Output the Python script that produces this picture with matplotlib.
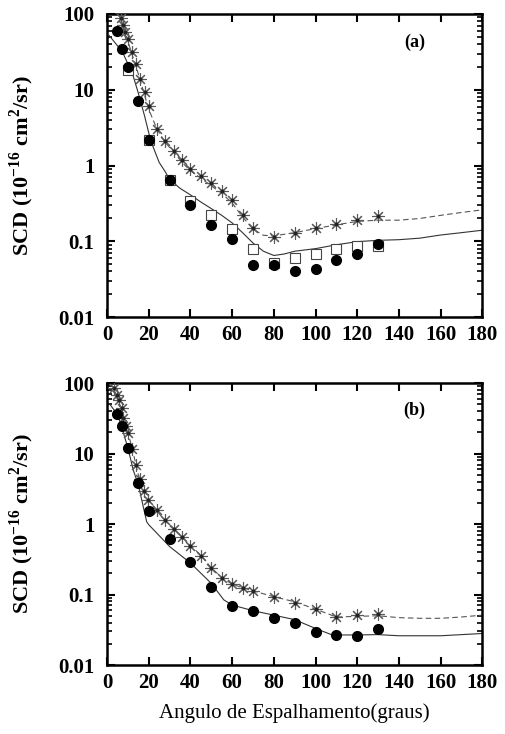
import numpy as np
import matplotlib
matplotlib.use("Agg")
import matplotlib.pyplot as plt
from matplotlib.ticker import FixedLocator, LogLocator, NullFormatter

plt.rcParams['font.family'] = ['Liberation Serif', 'DejaVu Serif']
plt.rcParams['mathtext.fontset'] = 'custom'
plt.rcParams['mathtext.rm'] = 'Liberation Serif'
plt.rcParams['mathtext.bf'] = 'Liberation Serif:bold'

# ---- panel (a) ----
a_circ_x = [5, 7, 10, 15, 20, 30, 40, 50, 60, 70, 80, 90, 100, 110, 120, 130]
a_circ_y = [60, 34, 20, 7.2, 2.17, 0.645, 0.30, 0.162, 0.106, 0.048, 0.048, 0.040, 0.0435, 0.056, 0.068, 0.091]

a_sq_x = [10, 20, 30, 40, 50, 60, 70, 80, 90, 100, 110, 120, 130]
a_sq_y = [18, 2.2, 0.65, 0.34, 0.22, 0.144, 0.080, 0.052, 0.061, 0.067, 0.079, 0.088, 0.088]

a_ast_x = [6.5, 7.8, 8.8, 10, 12, 14, 16, 18, 20, 24, 28, 32, 36, 40, 45, 50, 55, 60, 65, 70,
           80, 90, 100, 110, 120, 130]
a_ast_y = [88, 72, 58, 47, 31, 22, 13.9, 9.4, 6.1, 3.03, 2.12, 1.57, 1.18, 0.90, 0.73, 0.58,
           0.46, 0.35, 0.22, 0.151, 0.113, 0.127, 0.151, 0.169, 0.19, 0.215]

a_solid_x = [1, 5, 7, 10, 12, 15, 18, 20, 21, 25, 28, 30, 35, 40, 45, 50, 55, 60, 65, 70,
             75, 80, 85, 90, 100, 110, 120, 130, 140, 150, 160, 170, 180]
a_solid_y = [52, 38, 33, 22, 17, 9, 4.5, 2.7, 2.1, 1.1, 0.82, 0.66, 0.5, 0.41, 0.33, 0.27,
             0.22, 0.175, 0.13, 0.095, 0.074, 0.065, 0.068, 0.074, 0.080, 0.09, 0.099,
             0.103, 0.105, 0.11, 0.121, 0.13, 0.14]

a_dash_x = [5, 7, 8, 10, 12, 14, 16, 18, 20, 24, 28, 32, 36, 40, 45, 50, 55, 60, 65, 70,
            75, 80, 90, 100, 110, 120, 130, 140, 150, 160, 170, 180]
a_dash_y = [110, 80, 68, 44, 29, 20, 13, 8.5, 5.5, 3.0, 2.0, 1.5, 1.1, 0.85, 0.68, 0.54,
            0.43, 0.32, 0.21, 0.145, 0.12, 0.118, 0.13, 0.147, 0.165, 0.183, 0.19, 0.19,
            0.2, 0.22, 0.24, 0.26]

# ---- panel (b) ----
b_circ_x = [5, 7, 10, 15, 20, 30, 40, 50, 60, 70, 80, 90, 100, 110, 120, 130]
b_circ_y = [37, 25, 12.1, 3.8, 1.52, 0.61, 0.29, 0.129, 0.069, 0.059, 0.046, 0.039, 0.0297,
            0.0267, 0.0255, 0.0328]

b_ast_x = [3.4, 4.6, 5.9, 7, 7.8, 9.1, 10.2, 11.8, 13.8, 15.8, 17.8, 19.8, 24, 28, 32, 36,
           40, 45, 50, 55, 60, 65, 70, 80, 90, 100, 110, 120, 130]
b_ast_y = [86, 69, 57, 44, 32, 25, 19.3, 11.6, 6.9, 4.4, 2.94, 2.19, 1.58, 1.14, 0.85, 0.66,
           0.49, 0.35, 0.235, 0.173, 0.14, 0.125, 0.112, 0.091, 0.075, 0.062, 0.048, 0.051,
           0.053]

b_solid_x = [1, 5, 7, 10, 12.6, 15, 19, 20, 30, 40, 50, 56, 60, 70, 80, 90, 100, 108, 120,
             130, 140, 160, 180]
b_solid_y = [51.5, 36, 24, 12, 5.8, 3.6, 1.08, 0.98, 0.48, 0.28, 0.144, 0.084, 0.071, 0.059,
             0.051, 0.044, 0.033, 0.0267, 0.0267, 0.027, 0.026, 0.026, 0.028]

b_dash_x = [1, 3, 5, 7, 10, 12, 15, 20, 25, 30, 35, 40, 45, 50, 55, 60, 65, 70, 80, 90, 100,
            110, 120, 130, 140, 150, 160, 170, 180]
b_dash_y = [110, 85, 62, 42, 20, 12, 5, 2.2, 1.4, 0.95, 0.7, 0.5, 0.36, 0.24, 0.175, 0.14,
            0.125, 0.113, 0.093, 0.079, 0.062, 0.048, 0.049, 0.050, 0.047, 0.046, 0.046,
            0.048, 0.051]

xticks = [0, 20, 40, 60, 80, 100, 120, 140, 160, 180]
yticks = [0.01, 0.1, 1, 10, 100]
ytick_labels = ['0.01', '0.1', '1', '10', '100']

fig = plt.figure(figsize=(5.05, 7.34), dpi=100)
ax_a = fig.add_axes([0.212, 0.568, 0.743, 0.413])
ax_b = fig.add_axes([0.212, 0.094, 0.743, 0.384])

ast = (8, 2, 0)


def draw(ax, circ, sq, astk, solid, dash, tag):
    ax.plot(solid[0], solid[1], '-', color='#333333', lw=0.8, zorder=2)
    ax.plot(dash[0], dash[1], '--', color='#555555', lw=0.8, dashes=(5, 3), zorder=2)
    ax.plot(astk[0], astk[1], ls='none', marker=ast, ms=9, color='#5a5a5a', mew=0.8, zorder=3)
    ax.plot(astk[0], astk[1], ls='none', marker='o', ms=1.8, color='#222222', zorder=3)
    if sq is not None:
        ax.plot(sq[0], sq[1], ls='none', marker='s', ms=6.5, mfc='white', mec='#444444',
                mew=0.8, zorder=4)
    ax.plot(circ[0], circ[1], ls='none', marker='o', ms=7, color='black', zorder=5)

    ax.set_yscale('log')
    ax.set_xlim(0, 180)
    ax.set_ylim(0.01, 100)
    ax.xaxis.set_major_locator(FixedLocator(xticks))
    ax.set_xticklabels([str(t) for t in xticks], fontsize=15, fontweight='bold')
    ax.yaxis.set_major_locator(FixedLocator(yticks))
    ax.set_yticklabels(ytick_labels, fontsize=15, fontweight='bold')
    ax.yaxis.set_minor_locator(LogLocator(base=10, subs=np.arange(2, 10)))
    ax.yaxis.set_minor_formatter(NullFormatter())
    ax.tick_params(which='both', direction='in', top=True, right=True)
    ax.tick_params(which='major', length=6, width=1.5, pad=6)
    ax.tick_params(axis='y', which='major', pad=9)
    ax.tick_params(which='minor', length=3.5, width=1.2)
    for s in ax.spines.values():
        s.set_linewidth(1.8)
    ax.set_ylabel(r'SCD (10$^{\mathbf{-16}}$ cm$^{\mathbf{2}}$/sr)', fontsize=16,
                  fontweight='bold')
    ax.text(0.82, 0.905, tag, transform=ax.transAxes, fontsize=13, fontweight='bold',
            ha='center', va='center')


draw(ax_a, (a_circ_x, a_circ_y), (a_sq_x, a_sq_y), (a_ast_x, a_ast_y),
     (a_solid_x, a_solid_y), (a_dash_x, a_dash_y), '(a)')
draw(ax_b, (b_circ_x, b_circ_y), None, (b_ast_x, b_ast_y),
     (b_solid_x, b_solid_y), (b_dash_x, b_dash_y), '(b)')

ax_b.set_xlabel('Angulo de Espalhamento(graus)', fontsize=15, labelpad=7)
for ax in (ax_a, ax_b):
    ax.yaxis.set_label_coords(-0.19, 0.5)

fig.savefig('out.png', dpi=100)
